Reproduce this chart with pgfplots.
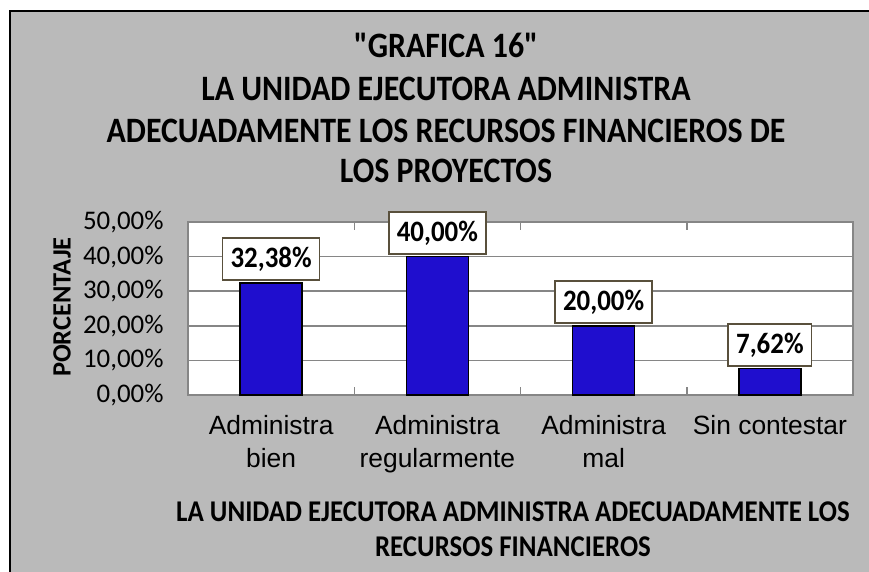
\documentclass[border=0pt]{standalone}
\usepackage{graphicx}
\usepackage{pgfplots}
\pgfplotsset{compat=1.18}
\usepackage{fontspec}
\setmainfont{Carlito}[Ligatures=TeXOff]
\newfontfamily\arial{Liberation Sans}
\newcommand\vs[1]{\scalebox{1}[1.12]{#1}}
\definecolor{bg}{RGB}{186,186,186}
\definecolor{barblue}{RGB}{31,14,206}
\definecolor{boxc}{RGB}{89,80,60}
\definecolor{gridc}{RGB}{134,134,134}
\begin{document}
\begin{tikzpicture}[x=1bp,y=1bp]
\useasboundingbox (0,0) rectangle (869,-572);
\fill[white] (0,0) rectangle (869,-572);
\fill[bg] (10,-11) rectangle (880,-583);
\draw[black, line width=2.2bp] (10,-583) -- (10,-11) -- (880,-11);
% title
\begin{scope}[every node/.style={font=\bfseries\fontsize{32}{36}\selectfont, anchor=base}]
\node at (446,-58) {\vs{"GRAFICA 16"}};
\node at (446,-101) {\vs{LA UNIDAD EJECUTORA ADMINISTRA}};
\node at (446,-143) {\vs{ADECUADAMENTE LOS RECURSOS FINANCIEROS DE}};
\node at (446,-183) {\vs{LOS PROYECTOS}};
\end{scope}
% axis titles
\node[rotate=90, font=\bfseries\fontsize{26.5}{30}\selectfont] at (62,-307) {PORCENTAJE};
\begin{scope}[every node/.style={font=\bfseries\fontsize{27}{30}\selectfont, anchor=base}]
\node at (513,-521) {\vs{LA UNIDAD EJECUTORA ADMINISTRA ADECUADAMENTE LOS}};
\node at (513,-556) {\vs{RECURSOS FINANCIEROS}};
\end{scope}
\begin{axis}[
  at={(188bp,-395bp)}, anchor=south west,
  scale only axis, width=665bp, height=173bp,
  clip=false,
  xmin=-0.5, xmax=3.5, ymin=0, ymax=50,
  axis background/.style={fill=white},
  axis line style={gridc, line width=1.5bp},
  ymajorgrids, grid style={gridc, line width=1.5bp},
  xtick={0,1,2,3},
  xticklabels={Administra\\bien, Administra\\regularmente, Administra\\mal, Sin contestar},
  xticklabel style={font=\arial\fontsize{26.5}{33}\selectfont, align=center, anchor=north, yshift=-17bp},
  xtick style={draw=none},
  extra x ticks={0.5,1.5,2.5},
  extra x tick labels={},
  extra x tick style={xtick style={draw=gridc, line width=1.5bp}, major tick length=8bp, tick align=inside},
  ytick={0,10,20,30,40,50},
  yticklabels={{0,00\%},{10,00\%},{20,00\%},{30,00\%},{40,00\%},{50,00\%}},
  yticklabel style={font=\fontsize{27}{30}\selectfont, anchor=east, xshift=-21bp},
  ytick style={draw=none},
]
\addplot[ybar, fill=barblue, draw=black, line width=1.5bp, bar width=0.373,
  point meta=explicit symbolic,
  nodes near coords={\scalebox{1}[1.1]{\pgfplotspointmeta}},
  nodes near coords style={font=\bfseries\fontsize{27}{30}\selectfont, draw=boxc, line width=1.5bp, fill=white, minimum height=42bp, inner xsep=8bp, anchor=south, yshift=2bp},
] coordinates {(0,32.38) [32,38\%] (1,40) [40,00\%] (2,20) [20,00\%] (3,7.62) [7,62\%]};
\end{axis}
\end{tikzpicture}
\end{document}
